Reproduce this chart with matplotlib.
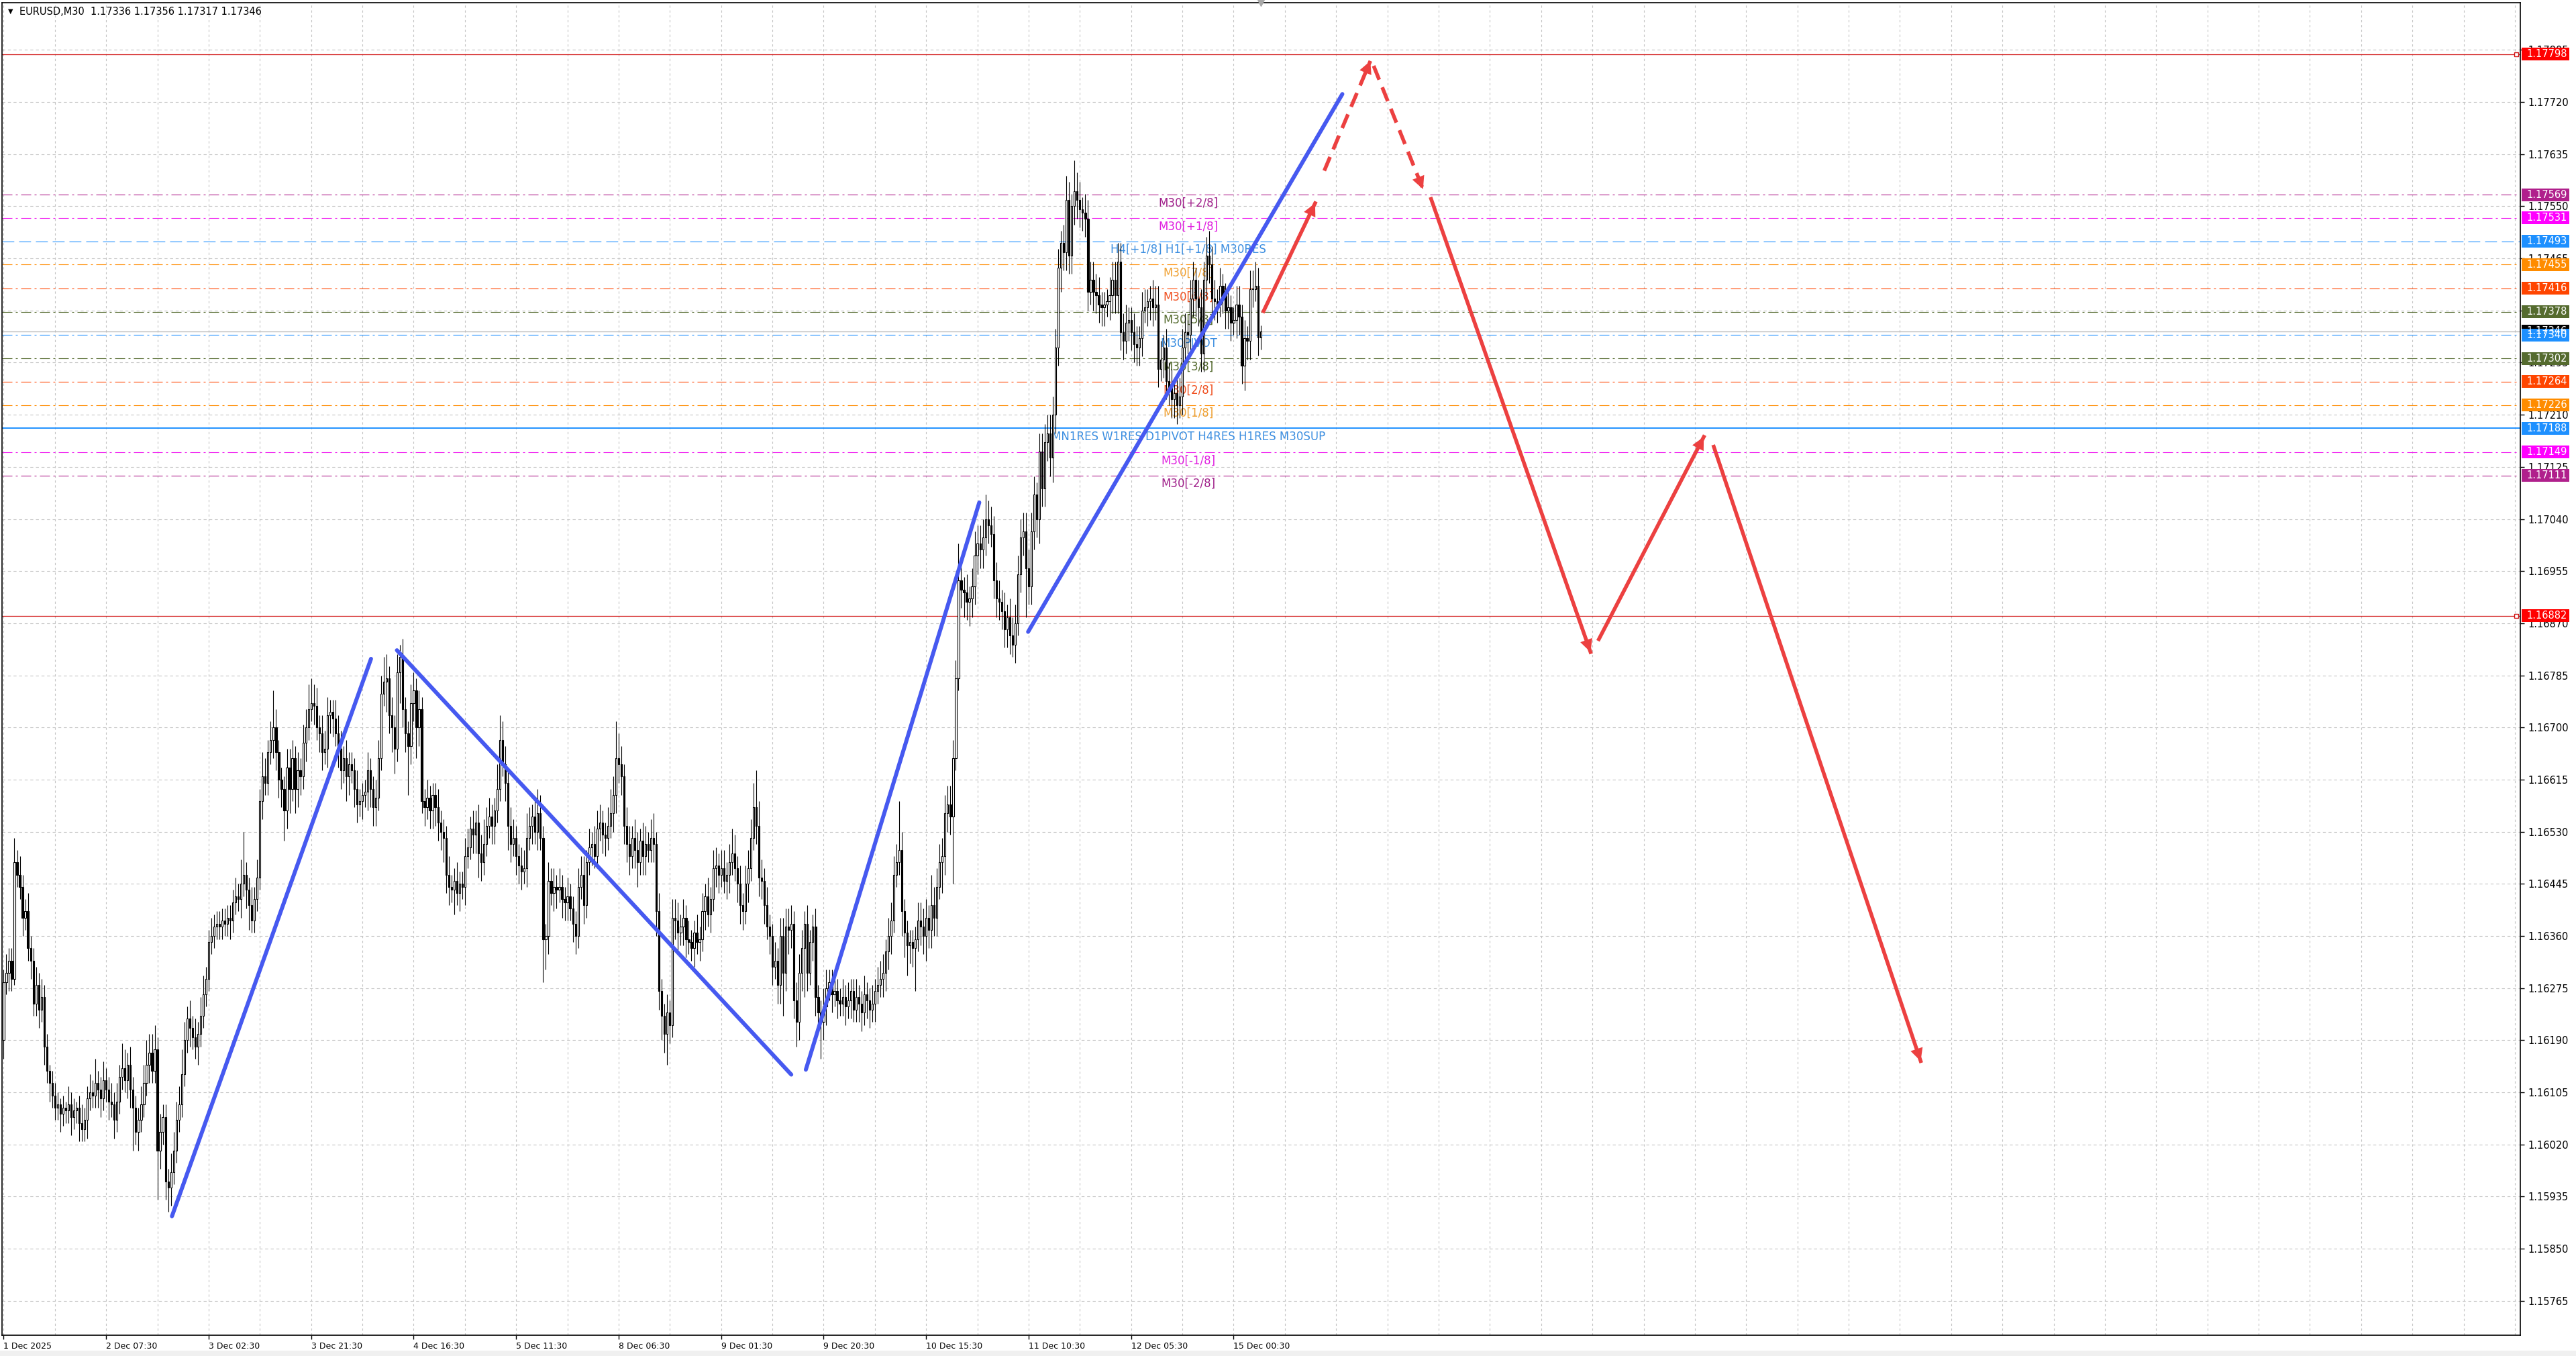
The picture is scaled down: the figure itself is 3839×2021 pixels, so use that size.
import numpy as np
import matplotlib.pyplot as plt
from matplotlib.patches import Rectangle
from matplotlib.transforms import blended_transform_factory

plt.rcParams['font.family'] = ['DejaVu Sans']

# --- candle data (points above 1.15000, 1 point = 0.00001) ---
first_open = 1190
closes = [
    1285, 1300, 1320, 1290, 1480, 1460, 1440, 1390, 1400, 1340, 1320, 1250, 1280, 1240, 1260, 1180, 1140, 1120, 1100, 1080,
    1085, 1070, 1080, 1075, 1085, 1065, 1075, 1080, 1055, 1045, 1060, 1095, 1105, 1100, 1120, 1110, 1095, 1125, 1110, 1090,
    1085, 1060, 1090, 1130, 1145, 1125, 1150, 1110, 1080, 1040, 1060, 1085, 1120, 1150, 1170, 1140, 1175, 1010, 1040, 1065,
    960, 950, 975, 1010, 1060, 1085, 1135, 1190, 1225, 1210, 1195, 1180, 1200, 1230, 1265, 1290, 1350, 1360, 1375, 1380,
    1375, 1385, 1380, 1390, 1385, 1415, 1425, 1420, 1445, 1460, 1435, 1410, 1385, 1420, 1455, 1580, 1620, 1610, 1660, 1680,
    1700, 1660, 1615, 1600, 1565, 1635, 1600, 1650, 1600, 1630, 1620, 1675, 1700, 1730, 1740, 1735, 1700, 1690, 1660, 1665,
    1720, 1725, 1715, 1690, 1665, 1630, 1650, 1620, 1640, 1630, 1600, 1575, 1580, 1590, 1595, 1630, 1600, 1570, 1585, 1650,
    1755, 1775, 1780, 1720, 1700, 1665, 1790, 1815, 1730, 1690, 1670, 1740, 1760, 1700, 1730, 1580, 1570, 1585, 1565, 1590,
    1570, 1545, 1530, 1520, 1460, 1440, 1435, 1450, 1430, 1445, 1440, 1490, 1505, 1535, 1525, 1545, 1495, 1480, 1510, 1540,
    1555, 1540, 1565, 1600, 1680, 1640, 1610, 1540, 1510, 1520, 1490, 1475, 1465, 1470, 1520, 1540, 1555, 1530, 1560, 1520,
    1355, 1360, 1450, 1430, 1440, 1435, 1440, 1420, 1415, 1425, 1405, 1380, 1360, 1440, 1460, 1410, 1480, 1505, 1510, 1490,
    1535, 1545, 1525, 1520, 1540, 1560, 1590, 1650, 1640, 1620, 1540, 1510, 1490, 1520, 1500, 1480, 1515, 1490, 1510, 1500,
    1520, 1510, 1400, 1270, 1230, 1200, 1235, 1215, 1390, 1385, 1365, 1375, 1390, 1355, 1350, 1340, 1365, 1350, 1355, 1400,
    1425, 1395, 1420, 1470, 1475, 1460, 1470, 1450, 1460, 1480, 1495, 1470, 1445, 1410, 1400, 1445, 1470, 1520, 1570, 1540,
    1455, 1450, 1410, 1375, 1360, 1310, 1320, 1280, 1360, 1300, 1375, 1370, 1380, 1255, 1220, 1300, 1340, 1380, 1300, 1350,
    1375, 1260, 1235, 1220, 1245, 1275, 1285, 1265, 1270, 1255, 1250, 1260, 1245, 1255, 1270, 1240, 1260, 1250, 1235, 1265,
    1255, 1240, 1250, 1270, 1280, 1290, 1300, 1335, 1360, 1385, 1460, 1480, 1500, 1400, 1365, 1345, 1350, 1340, 1355, 1385,
    1375, 1360, 1390, 1370, 1410, 1390, 1440, 1480, 1490, 1560, 1575, 1555, 1650, 1780, 1940, 1925, 1920, 1905, 1910, 1930,
    1980, 2000, 1990, 2010, 2040, 2030, 2015, 1940, 1910, 1905, 1890, 1860, 1880, 1850, 1835, 1870, 1950, 2010, 2020, 1960,
    1930, 2020, 2080, 2040, 2150, 2090, 2165, 2180, 2140, 2210, 2320, 2450, 2490, 2475, 2560, 2470, 2550, 2575, 2560, 2545,
    2540, 2530, 2410, 2430, 2410, 2405, 2390, 2385, 2390, 2395, 2405, 2430, 2405, 2460, 2345, 2330, 2360, 2365, 2345, 2325,
    2320, 2335, 2380, 2385, 2395, 2400, 2385, 2390, 2285, 2300, 2320, 2265, 2255, 2235, 2245, 2225, 2240, 2320, 2345, 2340,
    2400, 2430, 2400, 2385, 2310, 2430, 2470, 2455, 2400, 2395, 2390, 2420, 2405, 2380, 2385, 2360, 2365, 2390, 2370, 2290,
    2335, 2330, 2415, 2415, 2420, 2336, 2346,
]
# wick lengths in pips above / below the body
up_wick = [
    2, 3, 2, 2, 4, 2, 3, 2, 2, 3, 2, 2, 3, 2, 3, 2, 2, 1, 2, 2,
    2, 1, 2, 1, 3, 2, 2, 1, 2, 3, 2, 2, 3, 2, 4, 2, 2, 3, 2, 2,
    3, 2, 3, 2, 4, 3, 2, 3, 2, 2, 2, 3, 3, 4, 3, 3, 4, 2, 3, 2,
    2, 2, 3, 3, 3, 3, 4, 3, 2, 3, 2, 3, 2, 3, 3, 2, 2, 3, 2, 2,
    2, 2, 2, 2, 2, 2, 3, 2, 4, 7, 2, 2, 3, 2, 3, 2, 4, 3, 2, 3,
    6, 3, 2, 2, 2, 3, 3, 3, 2, 3, 2, 3, 3, 4, 4, 3, 3, 2, 3, 3,
    3, 2, 2, 3, 3, 3, 2, 3, 2, 2, 2, 3, 2, 2, 2, 3, 2, 2, 3, 3,
    3, 4, 4, 2, 3, 2, 3, 2, 3, 2, 2, 3, 3, 2, 3, 2, 2, 3, 2, 2,
    2, 3, 2, 2, 2, 3, 2, 2, 3, 2, 2, 3, 3, 2, 3, 2, 3, 3, 4, 3,
    3, 2, 2, 4, 4, 3, 3, 2, 3, 3, 2, 2, 3, 3, 4, 3, 2, 3, 4, 3,
    2, 2, 3, 2, 3, 2, 3, 2, 2, 3, 2, 2, 2, 3, 3, 3, 2, 3, 2, 3,
    3, 3, 2, 2, 3, 4, 3, 6, 4, 3, 2, 3, 3, 2, 3, 3, 2, 3, 3, 2,
    3, 4, 2, 3, 2, 2, 3, 2, 3, 3, 3, 2, 3, 2, 3, 2, 2, 3, 2, 3,
    2, 3, 2, 3, 3, 2, 3, 3, 2, 3, 4, 3, 2, 3, 2, 3, 3, 3, 4, 6,
    4, 3, 2, 3, 2, 2, 3, 2, 3, 3, 3, 3, 3, 2, 3, 3, 3, 2, 3, 2,
    2, 3, 2, 2, 3, 3, 2, 2, 3, 2, 2, 3, 2, 3, 2, 2, 3, 2, 2, 3,
    2, 2, 3, 2, 3, 3, 3, 2, 3, 3, 3, 3, 8, 3, 2, 2, 2, 2, 2, 3,
    3, 3, 3, 2, 5, 3, 3, 3, 3, 3, 3, 3, 3, 3, 6, 3, 2, 3, 2, 3,
    4, 3, 3, 3, 4, 3, 3, 3, 3, 3, 2, 3, 2, 3, 3, 3, 3, 3, 3, 3,
    3, 3, 3, 2, 3, 3, 3, 3, 3, 3, 3, 3, 2, 3, 4, 3, 2, 5, 3, 3,
    2, 3, 3, 3, 3, 3, 3, 2, 2, 2, 3, 3, 3, 3, 3, 3, 3, 2, 2, 3,
    3, 2, 3, 3, 2, 2, 3, 3, 3, 3, 2, 3, 3, 3, 2, 3, 3, 3, 3, 2,
    3, 3, 2, 3, 3, 3, 3, 4, 3, 3, 2, 3, 2, 2, 3, 2, 2, 3, 3, 2,
    3, 2, 3, 3, 4, 3, 1,
]
down_wick = [
    3, 2, 3, 2, 1, 2, 2, 3, 2, 2, 3, 2, 2, 3, 2, 3, 2, 3, 2, 2,
    2, 3, 2, 2, 2, 3, 2, 2, 3, 2, 2, 3, 2, 2, 2, 3, 3, 2, 2, 3,
    2, 3, 2, 2, 2, 2, 3, 3, 7, 2, 3, 2, 2, 2, 3, 2, 2, 8, 3, 2,
    3, 4, 3, 2, 2, 2, 2, 2, 2, 3, 2, 2, 3, 2, 2, 2, 2, 2, 2, 2,
    2, 2, 2, 2, 3, 2, 2, 2, 3, 2, 3, 4, 2, 2, 2, 2, 3, 2, 2, 2,
    3, 3, 3, 3, 5, 3, 4, 2, 4, 3, 3, 2, 3, 2, 2, 3, 2, 3, 3, 2,
    3, 3, 3, 2, 3, 3, 2, 4, 3, 2, 3, 3, 2, 3, 2, 3, 3, 3, 3, 2,
    2, 2, 5, 3, 4, 4, 2, 5, 3, 3, 8, 3, 3, 5, 3, 2, 3, 2, 3, 3,
    3, 3, 3, 4, 3, 3, 2, 4, 2, 3, 2, 3, 2, 2, 3, 3, 4, 3, 2, 2,
    2, 3, 3, 2, 2, 2, 3, 4, 3, 2, 3, 3, 3, 2, 3, 2, 3, 2, 3, 2,
    7, 5, 3, 2, 3, 3, 2, 3, 3, 3, 2, 3, 3, 2, 2, 3, 2, 2, 3, 2,
    2, 2, 3, 3, 2, 2, 3, 3, 3, 3, 3, 3, 3, 2, 3, 4, 2, 3, 3, 2,
    2, 3, 4, 3, 4, 3, 5, 3, 2, 3, 3, 2, 3, 3, 2, 2, 3, 2, 3, 2,
    3, 2, 3, 2, 3, 3, 2, 2, 3, 3, 2, 2, 3, 3, 3, 2, 3, 2, 2, 3,
    3, 3, 3, 2, 3, 3, 2, 3, 3, 7, 3, 4, 3, 3, 4, 3, 3, 8, 3, 2,
    3, 3, 3, 6, 3, 3, 2, 3, 2, 3, 2, 2, 3, 2, 3, 2, 2, 3, 3, 2,
    3, 3, 2, 3, 2, 2, 3, 3, 3, 3, 2, 2, 2, 4, 4, 5, 3, 3, 7, 2,
    3, 3, 4, 3, 3, 3, 3, 2, 5, 3, 3, 3, 11, 2, 2, 3, 4, 3, 4, 3,
    3, 3, 3, 3, 3, 3, 2, 3, 3, 3, 3, 3, 3, 3, 2, 3, 2, 3, 3, 8,
    3, 3, 3, 3, 4, 3, 3, 3, 3, 4, 3, 3, 4, 3, 3, 3, 3, 3, 3, 3,
    3, 3, 3, 2, 3, 3, 3, 3, 3, 2, 3, 3, 3, 3, 3, 3, 2, 3, 3, 3,
    3, 3, 3, 2, 3, 3, 3, 2, 3, 2, 3, 3, 3, 3, 3, 3, 2, 3, 3, 3,
    3, 3, 3, 3, 3, 3, 3, 3, 3, 3, 3, 2, 3, 3, 3, 3, 2, 3, 3, 3,
    4, 3, 3, 3, 2, 3, 2,
]

# --- horizontal levels ---
level_prices = [1.17569, 1.17531, 1.17493, 1.17455, 1.17416, 1.17378, 1.17340,
                1.17302, 1.17264, 1.17226, 1.17188, 1.17149, 1.17111]
level_names = ['M30[+2/8]', 'M30[+1/8]', 'H4[+1/8] H1[+1/8] M30RES', 'M30[7/8]', 'M30[6/8]',
               'M30[5/8]', 'M30PIVOT', 'M30[3/8]', 'M30[2/8]', 'M30[1/8]',
               'MN1RES W1RES D1PIVOT H4RES H1RES M30SUP', 'M30[-1/8]', 'M30[-2/8]']
red_levels = [1.17798, 1.16882]
bid_price = 1.17346
header = 'EURUSD,M30  1.17336 1.17356 1.17317 1.17346'

yticks = [1.15765, 1.15850, 1.15935, 1.16020, 1.16105, 1.16190, 1.16275, 1.16360, 1.16445,
          1.16530, 1.16615, 1.16700, 1.16785, 1.16870, 1.16955, 1.17040, 1.17125, 1.17210,
          1.17295, 1.17380, 1.17465, 1.17550, 1.17635, 1.17720, 1.17805]
xtick_bars = [0, 38, 76, 114, 152, 190, 228, 266, 304, 342, 380, 418, 456]
xtick_labels = ['1 Dec 2025', '2 Dec 07:30', '3 Dec 02:30', '3 Dec 21:30', '4 Dec 16:30',
                '5 Dec 11:30', '8 Dec 06:30', '9 Dec 01:30', '9 Dec 20:30', '10 Dec 15:30',
                '11 Dec 10:30', '12 Dec 05:30', '15 Dec 00:30']

# drawn objects: (bar, price) end points
blue_lines = [((62.4, 1.15903), (136.2, 1.16812)),
              ((145.8, 1.16826), (292.0, 1.16134)),
              ((297.4, 1.16142), (361.7, 1.17067)),
              ((379.8, 1.16856), (496.3, 1.17733))]
red_arrows = [((467.1, 1.17379), (486.2, 1.17555), 'solid'),
              ((489.6, 1.17608), (506.7, 1.17787), 'dashed'),
              ((507.9, 1.17779), (526.2, 1.17578), 'dashed'),
              ((529.2, 1.17562), (588.3, 1.16823), 'solid'),
              ((591.4, 1.16844), (630.3, 1.17174), 'solid'),
              ((634.0, 1.17158), (710.7, 1.16156), 'solid')]

# --- styles ---
PURPLE = '#B0208C'
MAG = '#F020F0'
BLUE = '#1E90FF'
ORANGE = '#FF8C00'
ORED = '#FF4500'
OLIVE = '#556B2F'
level_colors = [PURPLE, MAG, BLUE, ORANGE, ORED, OLIVE, BLUE, OLIVE, ORED, ORANGE, BLUE, MAG, PURPLE]
text_colors = ['#A0208A', '#E020E0', '#3C8EE0', '#F0A030', '#F05020', '#556B2F', '#3C8EE0',
               '#556B2F', '#F05020', '#F0A030', '#3C8EE0', '#E020E0', '#A0208A']
dashdot = (0, (13.5, 4.5, 2.7, 4.5))
level_styles = [dashdot, dashdot, (0, (16, 6.5)), dashdot, dashdot, dashdot, dashdot,
                dashdot, dashdot, dashdot, 'solid', dashdot, dashdot]

W, H = 3839, 2021
fig = plt.figure(figsize=(W / 100, H / 100), dpi=100)
ax = fig.add_axes([3 / W, 1 - 1990 / H, 3753 / W, 1986 / H])
ax.set_xlim(-0.6, 933)
ax.set_ylim(1.15709, 1.17882)

c = np.array(closes, dtype=float)
o = np.concatenate([[first_open], c[:-1]])
hi = np.maximum(o, c) + np.array(up_wick) * 10
lo = np.minimum(o, c) - np.array(down_wick) * 10
to_price = lambda v: 1.15 + v / 1e5
o, c, hi, lo = to_price(o), to_price(c), to_price(hi), to_price(lo)
x = np.arange(len(c))

# grid
for t in yticks:
    ax.axhline(t, color='#C4C4C4', lw=0.8, ls=(0, (4, 3.5)), zorder=0)
for b in range(0, 934, 19):
    ax.axvline(b, color='#C4C4C4', lw=0.8, ls=(0, (3, 3.5)), zorder=0)

# levels
for p, col, st in zip(level_prices, level_colors, level_styles):
    ax.axhline(p, color=col, lw=1.4 if st == 'solid' else 0.8, ls=st, zorder=1)
for p in red_levels:
    ax.axhline(p, color='#D01010', lw=0.9, zorder=1)
    ax.plot([931.5], [p], marker='s', ms=5, mfc='white', mec='#D01010', mew=1, zorder=6, clip_on=False)
ax.axhline(bid_price, color='#BDBDBD', lw=1.0, zorder=1)

# level labels
for p, name, col in zip(level_prices, level_names, text_colors):
    ax.annotate(name, (439.3, p), xytext=(0, -2.5), textcoords='offset points',
                ha='center', va='top', fontsize=12, color=col, zorder=2)

# candles
ax.vlines(x, lo, hi, color='black', lw=0.8, zorder=3)
up = c >= o
body_h = np.maximum(np.abs(c - o), 0.000012)
ax.bar(x[up], body_h[up], bottom=o[up], width=0.55, color='white', edgecolor='black', lw=0.8, zorder=4)
ax.bar(x[~up], body_h[~up], bottom=c[~up], width=0.55, color='black', edgecolor='black', lw=0.8, zorder=4)

# blue trend lines
for (x0, y0), (x1, y1) in blue_lines:
    ax.plot([x0, x1], [y0, y1], color='#4659F0', lw=4.3, solid_capstyle='round', zorder=7)

# red arrows
RED = '#EC4040'
for (x0, y0), (x1, y1), st in red_arrows:
    if st == 'dashed':
        ax.plot([x0, x1], [y0, y1], color=RED, lw=4.0, ls=(0, (4, 2.2)), zorder=8)
    else:
        ax.plot([x0, x1], [y0, y1], color=RED, lw=4.0, zorder=8)
    ax.annotate('', xy=(x1, y1), xytext=(x0, y0),
                arrowprops=dict(arrowstyle='-|>', color=RED, lw=0, mutation_scale=34,
                                shrinkA=0, shrinkB=0), zorder=9)

# axes styling
for s in ax.spines.values():
    s.set_color('black')
    s.set_linewidth(1.2)
ax.yaxis.tick_right()
ax.set_yticks(yticks)
ax.set_yticklabels(['%.5f' % t for t in yticks])
ax.tick_params(axis='y', length=4, width=1, pad=4, labelsize=10.5, colors='black')
ax.set_xticks(xtick_bars)
ax.set_xticklabels(xtick_labels, ha='left')
ax.tick_params(axis='x', length=4, width=1, pad=3, labelsize=9, colors='black')

# price boxes at the right
tr = blended_transform_factory(ax.transAxes, ax.transData)
box_w = 71 / 3753
box_h = 19 / 91400
box_items = [(1.17798, '#FF0000'), (1.17569, PURPLE), (1.17531, '#FF00FF'), (1.17493, BLUE),
             (1.17455, ORANGE), (1.17416, ORED), (1.17378, OLIVE), (bid_price, 'black'),
             (1.17340, BLUE), (1.17302, OLIVE), (1.17264, ORED), (1.17226, ORANGE),
             (1.17188, BLUE), (1.17149, '#FF00FF'), (1.17111, PURPLE), (1.16882, '#FF0000')]
for p, col in box_items:
    ax.add_patch(Rectangle((1.0006, p - box_h / 2), box_w, box_h, transform=tr,
                           facecolor=col, edgecolor='none', clip_on=False, zorder=10))
    ax.text(1.0026, p, '%.5f' % p, transform=tr, ha='left', va='center',
            fontsize=10.5, color='white', zorder=11, clip_on=False)

# header and shift marker
ax.text(9 / 3753, 1 - 13 / 1986, '\u25bc', transform=ax.transAxes, fontsize=7, va='center', ha='left')
ax.text(26 / 3753, 1 - 13 / 1986, header, transform=ax.transAxes, fontsize=10.5, va='center', ha='left')
ax.plot([466], [1.17882], marker='v', ms=7, color='#A8A8A8', clip_on=False, zorder=12)

fig.add_artist(Rectangle((0, 0), 1, 8 / H, transform=fig.transFigure, facecolor='#F0F0F0', edgecolor='none'))

fig.savefig('out.png', dpi=100)
